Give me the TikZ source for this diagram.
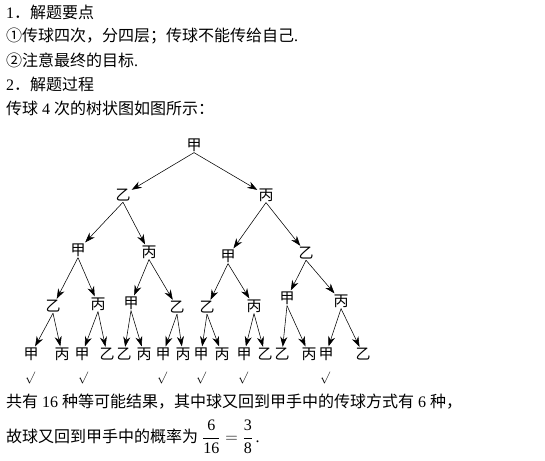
\documentclass[tikz,border=0pt]{standalone}
\usepackage{fontspec}
\setmainfont{Liberation Serif}
\newfontfamily\cjk{Noto Sans CJK SC}
\usetikzlibrary{arrows.meta}
\begin{document}
\begin{tikzpicture}[x=1pt,y=-1pt,
  txt/.style={anchor=west,inner sep=0pt,font=\fontsize{16}{18}\selectfont},
  tn/.style={inner sep=1pt,font=\cjk\fontsize{15}{15}\selectfont},
  ck/.style={inner sep=0pt,font=\fontsize{13}{13}\selectfont},
  arr/.style={-{Stealth[length=10pt,width=7pt]},line width=0.55pt}]
\useasboundingbox (0,0) rectangle (545,460);
% text
\node[txt] (t1) at (6,12) {1{\cjk ．解题要点}};
\node[txt] (t2) at (6,36) {{\cjk ①传球四次，分四层；传球不能传给自己}.};
\node[txt] (t3) at (6,60) {{\cjk ②注意最终的目标}.};
\node[txt] (t4) at (6,84) {2{\cjk ．解题过程}};
\node[txt] (t5) at (6,108) {{\cjk 传球} 4 {\cjk 次的树状图如图所示：}};
\node[txt] (t6) at (6,402) {{\cjk 共有} 16 {\cjk 种等可能结果，其中球又回到甲手中的传球方式有} 6 {\cjk 种，}};
\node[txt] (t7) at (6,437) {{\cjk 故球又回到甲手中的概率为} $\displaystyle\frac{\textrm{6}}{\textrm{16}}=\frac{\textrm{3}}{\textrm{8}}$\,.};
% tree
\node[tn] (A) at (194,145) {甲};
\node[tn] (B1) at (123,195) {乙};
\node[tn] (B2) at (266,195) {丙};
\node[tn] (C1) at (78,250) {甲};
\node[tn] (C2) at (149,252) {丙};
\node[tn] (C3) at (228,256) {甲};
\node[tn] (C4) at (306,253) {乙};
\node[tn] (D1) at (53,306) {乙};
\node[tn] (D2) at (98,304) {丙};
\node[tn] (D3) at (131,303) {甲};
\node[tn] (D4) at (177,307) {乙};
\node[tn] (D5) at (207,307) {乙};
\node[tn] (D6) at (254,306) {丙};
\node[tn] (D7) at (287,298) {甲};
\node[tn] (D8) at (341,301) {丙};
\foreach \i/\x/\t in {1/31/甲,2/62/丙,3/82/甲,4/107/乙,5/124/乙,6/144/丙,7/163/甲,8/183/丙,9/201/甲,10/222/丙,11/244/甲,12/265/乙,13/282/乙,14/309/丙,15/326/甲,16/363/乙}
  \node[tn] (E\i) at (\x,354) {\t};
\draw[arr] (A.south) -- (B1);
\draw[arr] (A.south) -- (B2);
\draw[arr] (B1.south) -- (C1);
\draw[arr] (B1.south) -- (C2);
\draw[arr] (B2.south) -- (C3);
\draw[arr] (B2.south) -- (C4);
\draw[arr] (C1.south) -- (D1);
\draw[arr] (C1.south) -- (D2);
\draw[arr] (C2.south) -- (D3);
\draw[arr] (C2.south) -- (D4);
\draw[arr] (C3.south) -- (D5);
\draw[arr] (C3.south) -- (D6);
\draw[arr] (C4.south) -- (D7);
\draw[arr] (C4.south) -- (D8);
\draw[arr] (D1.south) -- (E1);
\draw[arr] (D1.south) -- (E2);
\draw[arr] (D2.south) -- (E3);
\draw[arr] (D2.south) -- (E4);
\draw[arr] (D3.south) -- (E5);
\draw[arr] (D3.south) -- (E6);
\draw[arr] (D4.south) -- (E7);
\draw[arr] (D4.south) -- (E8);
\draw[arr] (D5.south) -- (E9);
\draw[arr] (D5.south) -- (E10);
\draw[arr] (D6.south) -- (E11);
\draw[arr] (D6.south) -- (E12);
\draw[arr] (D7.south) -- (E13);
\draw[arr] (D7.south) -- (E14);
\draw[arr] (D8.south) -- (E15);
\draw[arr] (D8.south) -- (E16);
% checks
\foreach \i/\x in {1/30,3/83,7/162,9/201,11/243,15/325}
  \node[ck] (K\i) at (\x,378) {$\surd$};
\end{tikzpicture}
\end{document}
